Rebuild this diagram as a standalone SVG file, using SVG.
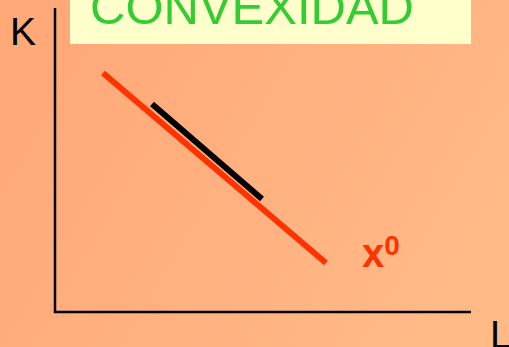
<svg xmlns="http://www.w3.org/2000/svg" width="509" height="347" viewBox="0 0 509 347">
  <defs>
    <linearGradient id="bg" x1="0" y1="0.3" x2="1" y2="0.7">
      <stop offset="0" stop-color="#FFA878"/>
      <stop offset="1" stop-color="#FFBA88"/>
    </linearGradient>
  </defs>
  <style>
    .axis { stroke: #000; stroke-width: 2.5; fill: none; }
    .lbl { font-family: "Liberation Sans", Arial, sans-serif; fill: #000; font-size: 39px; }
  </style>
  <rect x="0" y="0" width="509" height="347" fill="url(#bg)"/>
  <g id="title">
    <rect x="70" y="0" width="401" height="44" fill="#FFFFCC"/>
    <text x="90" y="24" font-family="Liberation Sans, Arial, sans-serif" font-size="49" fill="#33CC33">CONVEXIDAD</text>
  </g>
  <g id="axes">
    <polyline class="axis" points="55,8 55,312 471,312"/>
    <text class="lbl" x="10" y="45">K</text>
    <text class="lbl" x="490" y="348">L</text>
  </g>
  <g id="connectors">
    <line x1="103" y1="73" x2="326" y2="263" stroke="#FF3300" stroke-width="6"/>
    <line x1="152" y1="104" x2="262" y2="199" stroke="#000" stroke-width="6"/>
  </g>
  <g id="label-x0">
    <text x="362" y="266.5" font-family="Liberation Sans, Arial, sans-serif" font-weight="bold" font-size="40" fill="#FF3300">x<tspan font-size="28" dy="-11.5">0</tspan></text>
  </g>
</svg>
